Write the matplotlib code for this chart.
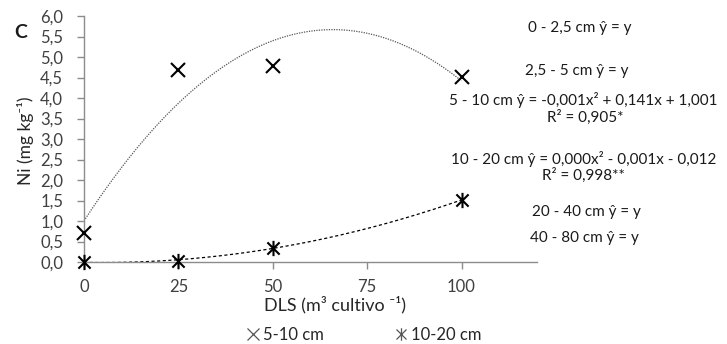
import numpy as np
import matplotlib
matplotlib.use("Agg")
import matplotlib.pyplot as plt
from matplotlib.path import Path
from matplotlib.lines import Line2D

plt.rcParams['font.family'] = ['Lato', 'DejaVu Sans']

# data
doses = [0, 25, 50, 100]
ni_5_10 = [0.70, 4.68, 4.79, 4.52]
ni_10_20 = [0.00, 0.03, 0.35, 1.51]
series_labels = ["5-10 cm", "10-20 cm"]
xticks = [0, 25, 50, 75, 100]
yticks = [0.0, 0.5, 1.0, 1.5, 2.0, 2.5, 3.0, 3.5, 4.0, 4.5, 5.0, 5.5, 6.0]
equations = [
    "0 - 2,5 cm ŷ = y",
    "2,5 - 5 cm ŷ = y",
    "5 - 10 cm ŷ = -0,001x² + 0,141x + 1,001",
    "R² = 0,905*",
    "10 - 20 cm ŷ = 0,000x² - 0,001x - 0,012",
    "R² = 0,998**",
    "20 - 40 cm ŷ = y",
    "40 - 80 cm ŷ = y",
]
eq_pos = [(580, 28), (577, 71), (583, 100), (585, 117), (584, 159), (583, 175), (586, 212), (584, 238)]

W, H = 727, 344
fig = plt.figure(figsize=(W / 100, H / 100), dpi=100)
ax = fig.add_axes([84 / W, 1 - 262 / H, (537 - 84) / W, (262 - 16) / H])

asterisk = Path([(-1, -1), (1, 1), (-1, 1), (1, -1), (0, -1.25), (0, 1.25)],
                [Path.MOVETO, Path.LINETO, Path.MOVETO, Path.LINETO, Path.MOVETO, Path.LINETO])

# trend lines
xs = np.linspace(0, 100, 300)
c1 = np.polyfit(doses, ni_5_10, 2)
c2 = np.polyfit(doses, ni_10_20, 2)
ax.plot(xs, np.polyval(c1, xs), color='#555555', lw=0.9, ls=(0, (1, 1)), zorder=2)
ax.plot(xs, np.polyval(c2, xs), color='black', lw=0.9, ls=(0, (2.5, 2)), zorder=2)

ax.plot(doses, ni_5_10, ls='none', marker='x', ms=10, mew=1.5, color='black', clip_on=False, zorder=3)
ax.plot(doses, ni_10_20, ls='none', marker=asterisk, ms=11, mew=1.5, color='black', clip_on=False, zorder=3)

ax.set_xlim(0, 120)
ax.set_ylim(0, 6)
ax.set_xticks(xticks)
ax.set_xticklabels([str(t) for t in xticks])
ax.set_yticks(yticks)
ax.set_yticklabels([f"{t:.1f}".replace('.', ',') for t in yticks])
for s in ['top', 'right']:
    ax.spines[s].set_visible(False)
for s in ['left', 'bottom']:
    ax.spines[s].set_color('#8c8c8c')
    ax.spines[s].set_linewidth(1.0)
ax.tick_params(axis='both', colors='#8c8c8c', labelcolor='#404040', labelsize=12, length=5, width=1.0)
ax.tick_params(axis='y', pad=10)
ax.tick_params(axis='x', pad=7)

fig.text(25 / W, 1 - 141 / H, "Ni (mg kg⁻¹)", rotation=90, ha='center', va='center', fontsize=12.5, color='#262626')
fig.text(335 / W, 1 - 305 / H, "DLS (m³ cultivo ⁻¹)", ha='center', va='center', fontsize=13, color='#262626')
fig.text(21 / W, 1 - 33 / H, "C", ha='center', va='center', fontsize=14, fontweight='bold', color='#1a1a1a')

for txt, (px, py) in zip(equations, eq_pos):
    fig.text(px / W, 1 - py / H, txt, ha='center', va='center', fontsize=11, color='#1a1a1a')

handles = [Line2D([], [], ls='none', marker='x', ms=8, mew=0.9, color='#555555'),
           Line2D([], [], ls='none', marker=asterisk, ms=9, mew=0.9, color='#555555')]
fig.legend(handles, series_labels, loc='center', bbox_to_anchor=(362 / W, 1 - 335 / H), ncol=2,
           frameon=False, fontsize=12, handletextpad=0.0, columnspacing=4.0, handlelength=1.2,
           labelcolor='#262626')

fig.savefig("out.png", dpi=100)
